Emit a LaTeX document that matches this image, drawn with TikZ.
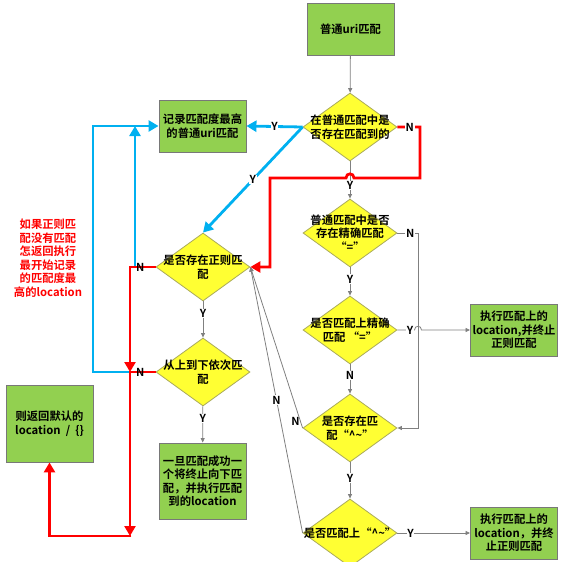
\documentclass[tikz,border=0pt]{standalone}
\usepackage{fontspec}
\setmainfont{Noto Sans CJK SC}[BoldFont={Noto Sans CJK SC Bold}]
\usetikzlibrary{arrows.meta,shapes.geometric}
\definecolor{boxgreen}{RGB}{146,208,80}
\definecolor{boxborder}{RGB}{120,120,120}
\definecolor{diayellow}{RGB}{255,255,51}
\definecolor{diaborder}{RGB}{170,170,90}
\definecolor{lineblue}{RGB}{0,176,240}
\definecolor{linered}{RGB}{255,0,0}
\definecolor{linegray}{RGB}{128,128,128}
\tikzset{
  txt/.style={font=\bfseries\fontsize{11.3}{13.5}\selectfont},
  box/.style={txt, draw=boxborder, line width=0.9pt, fill=boxgreen, minimum width=87pt, minimum height=52pt, align=center, inner sep=0pt},
  dia/.style={draw=diaborder, line width=0.8pt, fill=diayellow, shape=diamond, minimum width=94pt, minimum height=68pt, inner sep=0pt},
  dtext/.style={txt, align=center, inner sep=0pt},
  lab/.style={font=\bfseries\fontsize{11}{11}\selectfont, fill=white, inner sep=0.6pt},
  labnf/.style={font=\bfseries\fontsize{11}{11}\selectfont, inner sep=0.6pt},
  garrow/.style={draw=linegray, line width=0.8pt, -{Triangle[length=4.5pt,width=4pt]}},
  rline/.style={draw=linered, line width=2.8pt, -{Triangle[length=10pt,width=11pt]}},
  bline/.style={draw=lineblue, line width=2.8pt, -{Triangle[length=10pt,width=11pt]}},
}
\begin{document}
\begin{tikzpicture}[x=1pt,y=-1pt]
\useasboundingbox (0,0) rectangle (563,562);
\begin{scope}
\clip (0,0) rectangle (563,562);
% nodes
\node[box] (a) at (350.5,29) {普通uri匹配};
\node[dia] (d1) at (350,127) {};
\node[dtext] (t1) at (d1) {在普通匹配中是\\否存在匹配到的};
\node[box] (r1) at (202.5,126) {记录匹配度最高\\的普通uri匹配};
\node[dia] (d2) at (350,233) {};
\node[dtext] (t2) at (350,233) {普通匹配中是否\\存在精确匹配\\“=”};
\node[dia] (d3) at (350,330) {};
\node[dtext] (t3) at (d3) {是否匹配上精确\\匹配 “=”};
\node[box] (g1) at (514,330) {执行匹配上的\\location,并终止\\正则匹配};
\node[dia] (d4) at (350,428) {};
\node[dtext] (t4) at (d4) {是否存在匹\\配“\textasciicircum\textasciitilde”};
\node[dia] (d5) at (350,533) {};
\node[dtext] (t5) at (d5) {是否匹配上“\textasciicircum\textasciitilde”};
\node[box] (g2) at (514,533) {执行匹配上的\\location，并终\\止正则匹配};
\node[dia] (d6) at (203,267) {};
\node[dtext] (t6) at (d6) {是否存在正则匹\\配};
\node[dia] (d7) at (203,372) {};
\node[dtext] (t7) at (d7) {从上到下依次匹\\配};
\node[box, minimum height=76pt] (g3) at (202.5,481) {一旦匹配成功一\\个将终止向下匹\\配，并执行匹配\\到的location};
\node[box, minimum height=77pt] (g4) at (49.5,423.5) {则返回默认的\\location \ / \ \{\}};
\node[txt, text=linered, align=center, inner sep=0pt] (note) at (48,258) {如果正则匹\\配没有匹配\\怎返回执行\\最开始记录\\的匹配度最\\高的location};

% coordinates
\coordinate (c1a) at (420,127);
\coordinate (c1b) at (420,178);
\coordinate (h0a) at (354,178);
\coordinate (h0b) at (346,178);
\coordinate (c1c) at (270,178);
\coordinate (c1d) at (270,267);
\coordinate (c2) at (418,233);
\coordinate (h1a) at (414.5,330);
\coordinate (h1b) at (421.5,330);
\coordinate (j0) at (130,267);
\coordinate (j1) at (130,372);
\coordinate (j2) at (130,536);
\coordinate (j3) at (131.4,536);
\coordinate (b1) at (135,267);
\coordinate (b2) at (135,126);
\coordinate (b3) at (93,372);

% gray connectors
\draw[garrow] (a) -- (d1);
\draw[garrow] (d1) -- node[lab,pos=0.65]{Y} (d2);
\draw[garrow] (d2) -- node[lab,pos=0.41]{Y} (d3);
\draw[garrow] (d3) -- node[lab,pos=0.38]{N} (d4);
\draw[garrow] (d4) -- node[lab,pos=0.43]{Y} (d5);
\draw[garrow] (d2.east) -- node[lab,pos=0.62]{N} (c2) |- (d4.east);
\draw[garrow] (d3.east) -- node[lab,pos=0.74]{Y} (h1a) .. controls (414.5,325) and (421.5,325) .. (h1b) -- (g1.west);
\draw[garrow] (d5.east) -- node[lab,pos=0.18]{Y} (g2.west);
\draw[garrow] (d4.west) -- node[labnf,pos=0.04,left]{N} (d6.east);
\draw[garrow] (d5.west) -- node[lab,pos=0.5]{N} (d6.east);
\draw[garrow] (d6) -- node[lab,pos=0.34]{Y} (d7);
\draw[garrow] (d7) -- node[lab,pos=0.34]{Y} (g3);

% blue connectors
\draw[bline] (d1.west) -- node[lab,pos=0.5]{Y} (r1.east);
\draw[bline] (d1.west) -- node[lab,pos=0.5]{Y} (d6.north);
\draw[bline] (b1) -- (b2);
\draw[bline] (j1) -- (b3) |- (r1.west);

% red connectors
\draw[rline] (d1.east) -- node[lab,pos=0.55]{N} (c1a) -- (c1b) -- (h0a) .. controls (354,172.5) and (346,172.5) .. (h0b) -- (c1c) -- (c1d) -- (d6.east);
\draw[rline] (d6.west) -- node[labnf,pos=0.6]{N} (j0) -- (j1);
\draw[rline] (d7.west) -- node[labnf,pos=0.6]{N} (j1) -- (j2);
\draw[rline] (j3) -| (g4.south);
\end{scope}
\end{tikzpicture}
\end{document}
